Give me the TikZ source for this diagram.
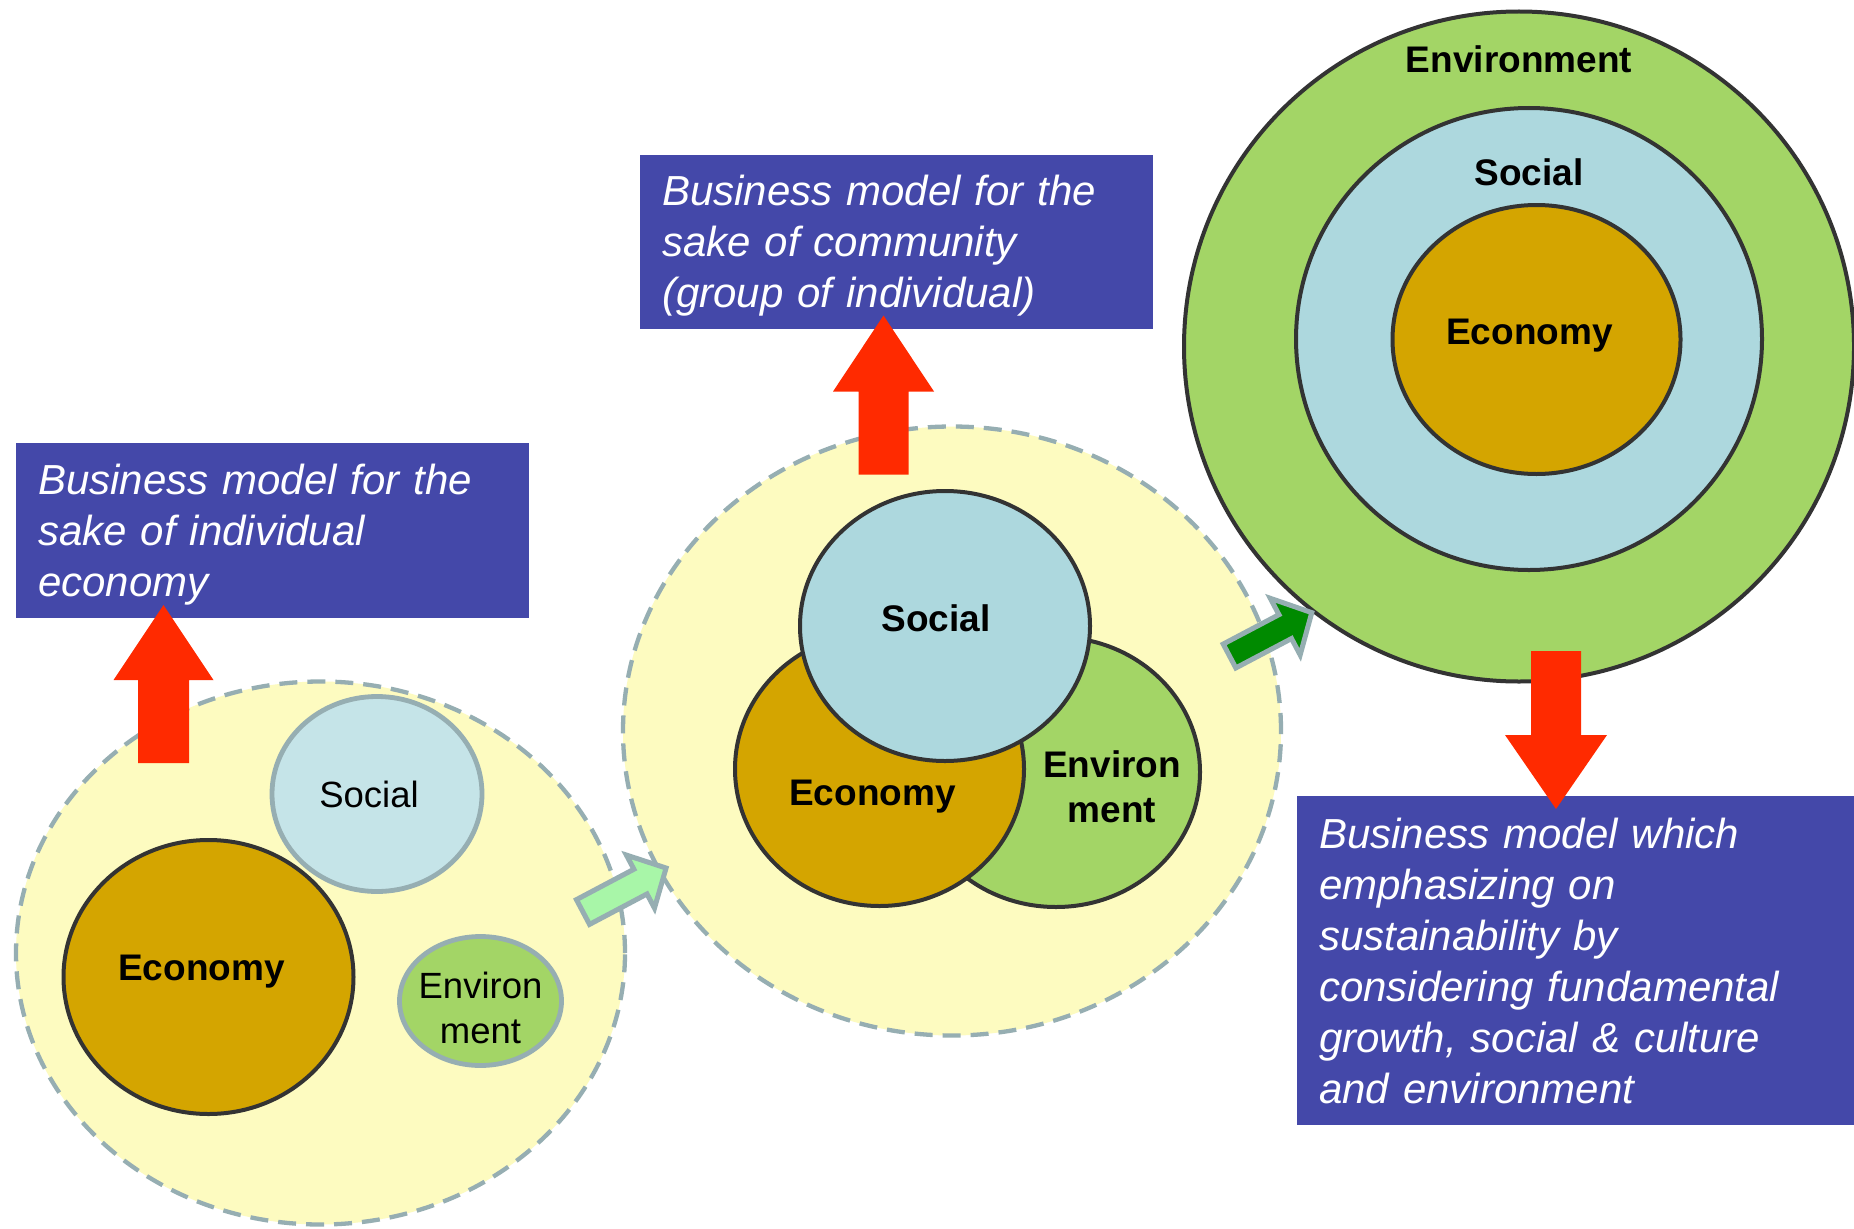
\documentclass[tikz,border=0pt]{standalone}
\usepackage{fontspec}
\setmainfont{Liberation Sans}
\usetikzlibrary{shapes.geometric,positioning}

\definecolor{boxblue}{RGB}{68,72,169}
\definecolor{ecogold}{RGB}{212,165,0}
\definecolor{socblue}{RGB}{173,216,222}
\definecolor{soclight}{RGB}{197,228,232}
\definecolor{envgreen}{RGB}{163,213,102}
\definecolor{haloyellow}{RGB}{253,251,192}
\definecolor{rimgrey}{RGB}{150,174,178}
\definecolor{rimdark}{RGB}{51,51,51}
\definecolor{arrred}{RGB}{255,42,0}
\definecolor{palegreen}{RGB}{168,246,168}
\definecolor{deepgreen}{RGB}{0,138,0}

% style, base, angle, length, head length, shaft half width, head half width
\newcommand{\blockarrow}[7]{%
	\begin{scope}[shift={#2},rotate=#3]
		\path[#1] (0,-#6) -- (#4-#5,-#6) -- (#4-#5,-#7) -- (#4,0) -- (#4-#5,#7) -- (#4-#5,#6) -- (0,#6) -- cycle;
	\end{scope}}
\newcommand{\toprule}{\rule{0pt}{38pt}}

\begin{document}
\begin{tikzpicture}[x=1pt,y=-1pt,
	halo/.style={ellipse, draw=rimgrey, fill=haloyellow, line width=4.3pt, dash pattern=on 18pt off 10pt, inner sep=0pt},
	blob/.style={ellipse, draw=rimdark, line width=4pt, inner sep=0pt},
	softblob/.style={ellipse, draw=rimgrey, line width=4.8pt, inner sep=0pt},
	lbl/.style={font=\fontsize{36.5}{45}\selectfont, align=center, inner sep=0pt},
	blbl/.style={lbl, font=\fontsize{37}{45}\selectfont\bfseries},
	bmbox/.style={fill=boxblue, text=white, font=\fontsize{42}{51}\selectfont\itshape, align=left, inner xsep=22pt, inner ysep=0pt, anchor=north west},
	redarrow/.style={fill=arrred},
	greenarrow/.style={draw=rimgrey, line width=5pt, line join=miter}]

		\useasboundingbox (0,0) rectangle (1854,1228);
		\fill[white] (0,0) rectangle (1854,1228);

		% individual economy
		\node[halo, minimum width=609, minimum height=543] (halo1) at (320.5,953) {};
		\node[softblob, fill=soclight, minimum width=210, minimum height=195] (soc1) at (377,794) {};
		\node[blob, fill=ecogold, minimum width=290, minimum height=274] (eco1) at (208.5,977) {};
		\node[softblob, fill=envgreen, minimum width=162, minimum height=129] (env1) at (480.5,1001) {};

		\node[lbl] at ([xshift=-8pt,yshift=0pt]soc1.center) {Social};
		\node[blbl] at ([xshift=-7pt,yshift=5pt]eco1.center) {Economy};
		\node[lbl] at ([yshift=-7pt]env1.center) {Environ\\ment};

		% community
		\node[halo, minimum width=658, minimum height=609] (halo2) at (952,731) {};
		\node[blob, fill=envgreen, minimum width=288, minimum height=270] (env2) at (1056,772) {};
		\node[blob, fill=ecogold, minimum width=289, minimum height=274] (eco2) at (879.5,769) {};
		\node[blob, fill=socblue, minimum width=290, minimum height=270] (soc2) at (945,626) {};

		\node[blbl] at ([xshift=-9pt,yshift=8pt]soc2.center) {Social};
		\node[blbl] at ([xshift=-7pt,yshift=-28pt]eco2.center) {Economy};
		\node[blbl] at ([xshift=56pt,yshift=-15pt]env2.center) {Environ\\ment};

		% sustainability
		\node[blob, fill=envgreen, minimum width=670, minimum height=670] (outer) at (1519,346.5) {};
		\node[blob, fill=socblue, minimum width=466, minimum height=462] (soc3) at (1529,339) {};
		\node[blob, fill=ecogold, minimum width=288, minimum height=269] (eco3) at (1536.5,339.5) {};

		\node[blbl, below=36pt of outer.north] {Environment};
		\node[blbl, below=52pt of soc3.north] {Social};
		\node[blbl] at ([xshift=-7pt,yshift=4pt]eco3.center) {Economy};

		% text boxes
		\node[bmbox, text width=469pt, minimum height=175pt] (box1) at (16,443) {\toprule Business model for the\\sake of individual\\economy};
		\node[bmbox, text width=469pt, minimum height=174pt] (box2) at (640,155) {\toprule Business model for the\\sake of community\\(group of individual)};
		\node[bmbox, text width=513pt, minimum height=329pt] (box3) at (1297,796) {Business model which\\emphasizing on\\sustainability by\\considering fundamental\\growth, social \& culture\\and environment};

		% arrows
		\blockarrow{redarrow}{(163.5,763)}{90}{158}{75}{25.5}{50}
		\blockarrow{redarrow}{(883.5,474.5)}{90}{159}{76}{25}{50.5}
		\blockarrow{redarrow}{(1556,651)}{-90}{158}{74}{25}{51}
		\blockarrow{greenarrow, fill=palegreen}{(583,912)}{27.9}{94}{29}{14}{30}
		\blockarrow{greenarrow, fill=deepgreen}{(1229.5,656)}{27.8}{93}{30}{13.5}{32}

\end{tikzpicture}
\end{document}
